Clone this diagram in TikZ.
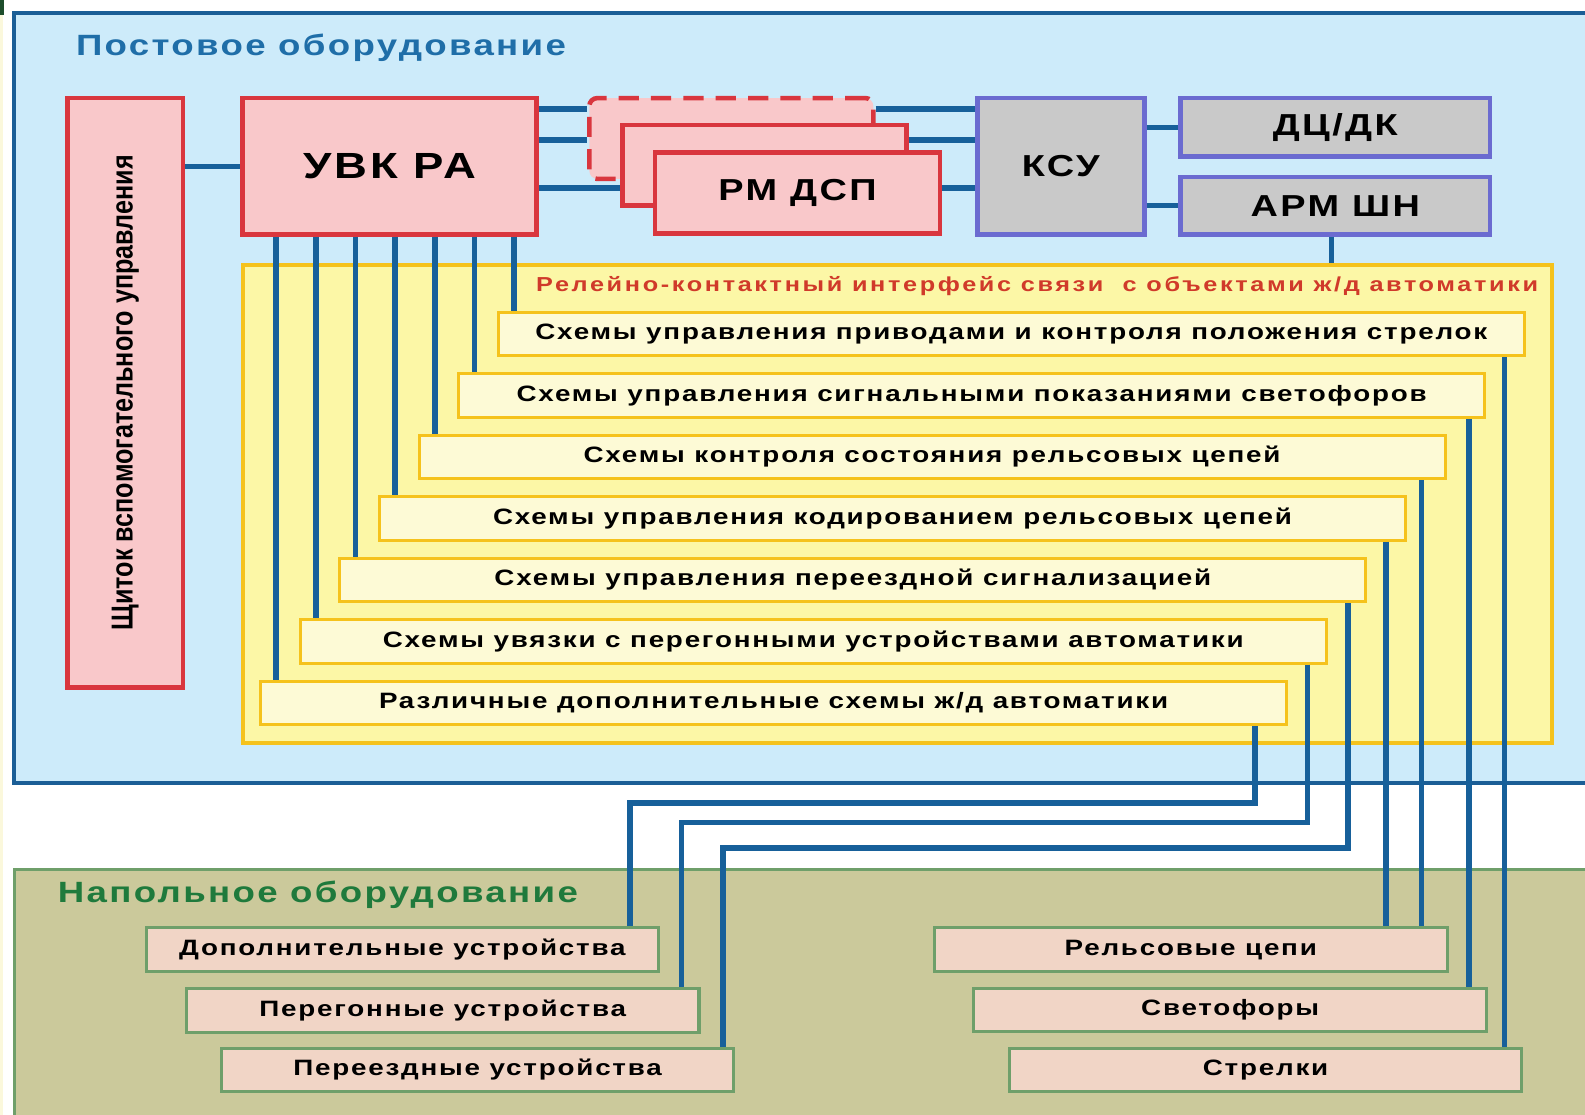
\documentclass[tikz,border=0pt]{standalone}
\usepackage{fontspec}
\setmainfont{Liberation Sans}[FakeStretch=1.25, LetterSpace=8]
\newfontfamily\narrowfont{Liberation Sans}[FakeStretch=0.83]
\newfontfamily\redfont{Liberation Sans}[FakeStretch=1.25, LetterSpace=13]
\usetikzlibrary{calc}

\definecolor{postfill}{HTML}{CDEBFA}
\definecolor{postline}{HTML}{1B5E96}
\definecolor{wireblue}{HTML}{17609A}
\definecolor{titleblue}{HTML}{1F6EA8}
\definecolor{boxred}{HTML}{D9363E}
\definecolor{boxpink}{HTML}{F9C8CA}
\definecolor{boxgray}{HTML}{C9C9C9}
\definecolor{boxviolet}{HTML}{6B6BD0}
\definecolor{gold}{HTML}{F5C21C}
\definecolor{ifaceyellow}{HTML}{FCF7A6}
\definecolor{cream}{HTML}{FDFAD6}
\definecolor{titlered}{HTML}{D03A2A}
\definecolor{fieldfill}{HTML}{CBC99B}
\definecolor{fieldline}{HTML}{6F9F6A}
\definecolor{peach}{HTML}{F1D5C6}
\definecolor{titlegreen}{HTML}{1F7A3C}
\definecolor{darkmark}{HTML}{1D4D2B}
\definecolor{leftstrip}{HTML}{FBF8DC}

\tikzset{
  wire/.style={draw=wireblue, line width=5.5pt},
  redbox/.style={draw=boxred, fill=boxpink, line width=4.5pt, inner sep=0pt,
    font=\bfseries\fontsize{30}{34}\selectfont},
  graybox/.style={draw=boxviolet, fill=boxgray, line width=4.5pt, inner sep=0pt,
    font=\bfseries\fontsize{30}{34}\selectfont},
  schema/.style={draw=gold, fill=cream, line width=3pt, inner sep=0pt,
    minimum width=1015pt, minimum height=43pt,
    font=\bfseries\fontsize{22}{25}\selectfont},
  field/.style={draw=fieldline, fill=peach, line width=3pt, inner sep=0pt,
    minimum width=507pt, minimum height=43pt,
    font=\bfseries\fontsize{22}{25}\selectfont}
}

\begin{document}
\begin{tikzpicture}[x=1pt, y=1pt]
\useasboundingbox (0,0) rectangle (1568,-1103);
\clip (0,0) rectangle (1568,-1103);

% edges of the sheet
\fill[leftstrip] (0,0) rectangle (3,-1103);
\fill[darkmark] (0,0) rectangle (4,-15);

% panels
\draw[draw=postline, fill=postfill, line width=4pt] (14,-13) rectangle (1610,-775);
\draw[draw=fieldline, fill=fieldfill, line width=3pt] (14,-860) rectangle (1610,-1130);

\node[anchor=west, inner sep=0pt, text=titleblue,
  font=\bfseries\fontsize{29}{32}\selectfont] (posttitle) at (75,-47)
{Постовое оборудование};

\node[anchor=west, inner sep=0pt, text=titlegreen,
  font=\bfseries\fontsize{29}{32}\selectfont] (fieldtitle) at (57,-885)
{Напольное оборудование};

% station equipment
\node[redbox, minimum width=114pt, minimum height=583pt] (shchit) at (124,-388.5)
{\rotatebox{90}{\narrowfont\bfseries\fontsize{30}{32}\selectfont Щиток вспомогательного управления}};

\node[redbox, minimum width=291pt, minimum height=135pt,
  font=\bfseries\fontsize{36}{40}\selectfont] (uvk) at (385.5,-164.5)
{УВК РА};

\node[redbox, dashed, dash pattern=on 20pt off 12pt, rounded corners=8pt,
  minimum width=281pt, minimum height=80pt] (rm3) at (723.5,-137) {};
\node[redbox, minimum width=281pt, minimum height=80pt] (rm2) at (756.5,-163.5) {};
\node[redbox, minimum width=282pt, minimum height=80pt] (rm1) at (789,-191)
{РМ ДСП};

\node[graybox, minimum width=165pt, minimum height=135pt] (ksu) at (1049.5,-164.5)
{КСУ};

\node[graybox, minimum width=306pt, minimum height=58pt] (dcdk) at (1321,-126)
{ДЦ/ДК};

\node[graybox, minimum width=306pt, minimum height=57pt] (armshn) at (1321,-203.5)
{АРМ ШН};

% relay interface
\node[draw=gold, fill=ifaceyellow, line width=4pt,
  minimum width=1295pt, minimum height=473pt] (iface) at (887.5,-498.5) {};

\node[inner sep=0pt, text=titlered,
  font=\redfont\bfseries\fontsize{20}{23}\selectfont] (ifacetitle) at (1026,-283)
{Релейно-контактный интерфейс связи\ \ с объектами ж/д автоматики};

\foreach \k/\txt in {
  1/{Схемы управления приводами и контроля положения стрелок},
  2/{Схемы управления сигнальными показаниями светофоров},
  3/{Схемы контроля состояния рельсовых цепей},
  4/{Схемы управления кодированием рельсовых цепей},
  5/{Схемы управления переездной сигнализацией},
  6/{Схемы увязки с перегонными устройствами автоматики},
  7/{Различные дополнительные схемы ж/д автоматики}}
  \node[schema] (s\k) at ({1000.5-39.2*(\k-1)},{-330.5-60.8*(\k-1)}) {\txt};

% field equipment
\node[field] (d1) at (398,-939.5) {Дополнительные устройства};
\node[field] (d2) at (438,-999.5) {Перегонные устройства};
\node[field] (d3) at (472.5,-1058.5) {Переездные устройства};

\node[field] (r1) at (1178,-939.5) {Рельсовые цепи};
\node[field] (r2) at (1217,-999) {Светофоры};
\node[field] (r3) at (1252,-1058.5) {Стрелки};

% links at the top
\draw[wire] (uvk.west -| shchit.east) -- (uvk.west);
\draw[wire] ([yshift=-13pt]uvk.north east) -- ([yshift=-13pt]uvk.north east -| rm3.west);
\draw[wire] ([yshift=-44pt]uvk.north east) -- ([yshift=-44pt]uvk.north east -| rm3.west);
\draw[wire] ([yshift=-91pt]uvk.north east) -- ([yshift=-91pt]uvk.north east -| rm2.west);
\draw[wire] ([yshift=-13pt]rm3.north east) -- ([yshift=-13pt]rm3.north east -| ksu.west);
\draw[wire] ([yshift=-17pt]rm2.north east) -- ([yshift=-17pt]rm2.north east -| ksu.west);
\draw[wire] ([yshift=-37pt]rm1.north east) -- ([yshift=-37pt]rm1.north east -| ksu.west);
\draw[wire] (dcdk.west -| ksu.east) -- (dcdk.west);
\draw[wire] (armshn.west -| ksu.east) -- (armshn.west);
\draw[wire] ([xshift=-4pt]armshn.south) -- ([xshift=-4pt]armshn.south |- iface.north);

% links from УВК РА to the circuits
\foreach \k in {1,...,7}
  \draw[wire] ([xshift=17pt]s\k.north west |- uvk.south) -- ([xshift=17pt]s\k.north west);

% links from the circuits to the field
\draw[wire] ([xshift=-21pt]s1.south east) -- ([xshift=-21pt]s1.south east |- r3.north);
\draw[wire] ([xshift=-17pt]s2.south east) -- ([xshift=-17pt]s2.south east |- r2.north);
\draw[wire] ([xshift=-25pt]s3.south east) -- ([xshift=-25pt]s3.south east |- r1.north);
\draw[wire] ([xshift=-21pt]s4.south east) -- ([xshift=-21pt]s4.south east |- r1.north);
\draw[wire] ([xshift=-19pt]s5.south east) -- ++(0,-242) -| ([xshift=-12pt]d3.north east);
\draw[wire] ([xshift=-20pt]s6.south east) -- ++(0,-156) -| ([xshift=-19pt]d2.north east);
\draw[wire] ([xshift=-33pt]s7.south east) -- ++(0,-76) -| ([xshift=-30pt]d1.north east);

\end{tikzpicture}
\end{document}
